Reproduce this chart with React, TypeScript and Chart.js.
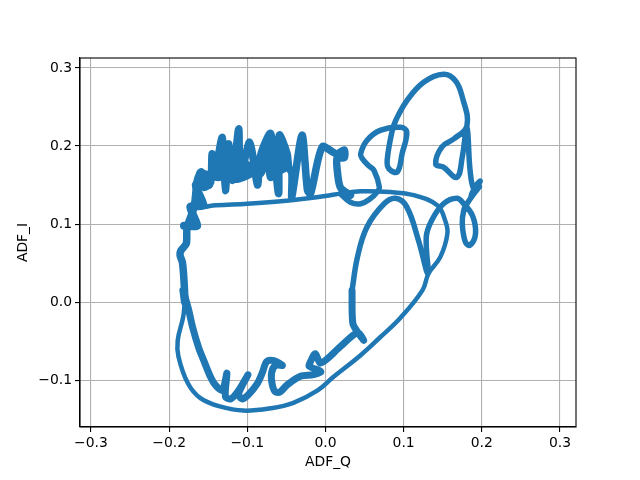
import React, { useEffect, useRef } from "react";
import { Chart, registerables } from "chart.js";

Chart.register(...registerables);

const xTickValues = [-0.3, -0.2, -0.1, 0, 0.1, 0.2, 0.3];
const yTickValues = [-0.1, 0, 0.1, 0.2, 0.3];

const outerQ = [-0.155, -0.14, -0.1, -0.05, 0, 0.019, 0.045, 0.083, 0.113, 0.143, 0.153, 0.156, 0.147, 0.132, 0.124, 0.096, 0.07, 0.045, 0.01, -0.01, -0.041, -0.07, -0.105, -0.134, -0.16, -0.176, -0.188, -0.189, -0.182, -0.18];
const outerI = [0.122, 0.124, 0.126, 0.13, 0.136, 0.139, 0.142, 0.141, 0.137, 0.124, 0.105, 0.088, 0.058, 0.037, 0.015, -0.02, -0.045, -0.068, -0.096, -0.113, -0.129, -0.136, -0.139, -0.134, -0.123, -0.104, -0.07, -0.049, -0.019, 0.0];

const scribbleQ = [-0.182, -0.18, -0.181, -0.183, -0.186, -0.185, -0.178, -0.177, -0.168, -0.164, -0.159, -0.156, -0.147, -0.145, -0.141, -0.132, -0.128, -0.124, -0.119, -0.111, -0.109, -0.097, -0.087, -0.083, -0.07, -0.06, -0.059, -0.049, -0.047, -0.043, -0.043, -0.03, -0.023, -0.019, -0.004, 0.014, 0.024, 0.024, 0.015, 0.015, 0.019, 0.032];
const scribbleI = [0.015, 0.0, 0.028, 0.051, 0.06, 0.066, 0.075, 0.096, 0.122, 0.156, 0.167, 0.147, 0.153, 0.19, 0.169, 0.211, 0.143, 0.203, 0.156, 0.222, 0.16, 0.205, 0.15, 0.188, 0.216, 0.139, 0.214, 0.19, 0.173, 0.165, 0.135, 0.214, 0.143, 0.139, 0.199, 0.19, 0.195, 0.185, 0.185, 0.17, 0.147, 0.137];

const fillQ = [-0.181, -0.164, -0.173, -0.156, -0.166, -0.149, -0.16, -0.136, -0.134, -0.119, -0.105, -0.115, -0.096, -0.109, -0.083, -0.075, -0.07, -0.064, -0.062, -0.051, -0.055];
const fillI = [0.098, 0.098, 0.122, 0.124, 0.15, 0.15, 0.165, 0.16, 0.182, 0.165, 0.19, 0.158, 0.165, 0.182, 0.165, 0.199, 0.16, 0.199, 0.169, 0.173, 0.199];

const loopsQ = [0.019, 0.032, 0.045, 0.058, 0.066, 0.069, 0.062, 0.055, 0.047, 0.045, 0.053, 0.07, 0.096, 0.104, 0.098, 0.092, 0.081, 0.079, 0.085, 0.09, 0.104, 0.126, 0.151, 0.166, 0.175, 0.181, 0.164, 0.149, 0.141, 0.151, 0.168, 0.175, 0.181, 0.185, 0.19, 0.198, 0.193, 0.186, 0.197, 0.19, 0.181, 0.177, 0.175, 0.179, 0.185, 0.192, 0.188, 0.177, 0.168, 0.151, 0.136, 0.129, 0.131, 0.119, 0.104, 0.09, 0.075, 0.053, 0.041, 0.034];
const loopsI = [0.139, 0.128, 0.126, 0.133, 0.141, 0.147, 0.169, 0.175, 0.184, 0.19, 0.207, 0.22, 0.224, 0.218, 0.19, 0.167, 0.171, 0.182, 0.218, 0.233, 0.258, 0.282, 0.292, 0.284, 0.263, 0.226, 0.209, 0.199, 0.177, 0.173, 0.16, 0.186, 0.224, 0.169, 0.145, 0.155, 0.15, 0.135, 0.148, 0.139, 0.126, 0.118, 0.101, 0.077, 0.073, 0.088, 0.111, 0.126, 0.133, 0.126, 0.105, 0.084, 0.037, 0.079, 0.122, 0.133, 0.126, 0.096, 0.058, 0.015];

const bottomQ = [0.034, 0.035, 0.041, 0.049, 0.041, 0.019, -0.006, -0.013, -0.019, -0.021, -0.006, -0.015, -0.032, -0.049, -0.058, -0.064, -0.068, -0.069, -0.064, -0.055, -0.066, -0.075, -0.081, -0.087, -0.099, -0.107, -0.111, -0.099, -0.111, -0.121, -0.128, -0.126, -0.132, -0.141, -0.147, -0.156, -0.162, -0.17, -0.175, -0.182];
const bottomI = [0.015, -0.027, -0.038, -0.049, -0.039, -0.057, -0.078, -0.066, -0.076, -0.082, -0.089, -0.093, -0.095, -0.106, -0.115, -0.115, -0.106, -0.091, -0.081, -0.081, -0.075, -0.076, -0.091, -0.104, -0.119, -0.124, -0.117, -0.093, -0.113, -0.124, -0.121, -0.091, -0.113, -0.106, -0.096, -0.074, -0.059, -0.032, -0.01, 0.015];

const BLUE = "#1f77b4";
const FONT = "'DejaVu Sans'";

const zip = (xs: number[], ys: number[]) => xs.map((x, i) => ({ x, y: ys[i] }));
const ds = (xs: number[], ys: number[], w: number, tension = 0.4) => ({
  data: zip(xs, ys),
  showLine: true,
  borderColor: BLUE,
  backgroundColor: BLUE,
  borderWidth: w,
  pointRadius: 0,
  tension,
  borderCapStyle: "round" as const,
  borderJoinStyle: "round" as const,
});
const fmt = (v: number) => {
  const s = Math.abs(v).toFixed(1);
  return v < -1e-9 ? "\u2212" + s : s;
};

const frame = {
  id: "frame",
  afterDraw(c: any) {
    const { left, right, top, bottom } = c.chartArea;
    const g = c.ctx;
    g.save();
    g.strokeStyle = "#000";
    g.lineWidth = 1.1;
    g.strokeRect(left, top, right - left, bottom - top);
    g.restore();
  },
};

export default function App() {
  const ref = useRef<HTMLCanvasElement>(null);
  useEffect(() => {
    const chart = new Chart(ref.current!, {
      type: "scatter",
      data: {
        datasets: [
          ds(outerQ, outerI, 4.5),
          ds(scribbleQ, scribbleI, 7.5, 0.25),
          ds(fillQ, fillI, 8, 0.2),
          ds(loopsQ, loopsI, 5.5),
          ds(bottomQ, bottomI, 7, 0.3),
        ],
      },
      options: {
        responsive: false,
        animation: false,
        devicePixelRatio: 1,
        layout: { padding: { top: 58, right: 64, left: 0, bottom: 0 } },
        plugins: { legend: { display: false }, tooltip: { enabled: false } },
        scales: {
          x: {
            type: "linear",
            min: -0.314,
            max: 0.3205,
            afterBuildTicks: (s: any) => { s.ticks = xTickValues.map((value) => ({ value })); },
            afterFit: (s: any) => { s.height = 53; },
            grid: { color: "#b0b0b0", lineWidth: 1.1, tickColor: "#000", tickLength: 5 },
            border: { color: "#000", width: 1.1 },
            ticks: { color: "#000", font: { family: FONT, size: 13.9 }, padding: 3, maxRotation: 0, autoSkip: false, callback: (v: any) => fmt(Number(v)) },
            title: { display: true, text: "ADF_Q", color: "#000", font: { family: FONT, size: 13.9 }, padding: { top: 0, bottom: 9 } },
          },
          y: {
            type: "linear",
            min: -0.16,
            max: 0.3128,
            afterBuildTicks: (s: any) => { s.ticks = yTickValues.map((value) => ({ value })); },
            afterFit: (s: any) => { s.width = 80; },
            grid: { color: "#b0b0b0", lineWidth: 1.1, tickColor: "#000", tickLength: 5 },
            border: { color: "#000", width: 1.1 },
            ticks: { color: "#000", font: { family: FONT, size: 13.9 }, padding: 3, autoSkip: false, callback: (v: any) => fmt(Number(v)) },
            title: { display: true, text: "ADF_I", color: "#000", font: { family: FONT, size: 13.9 }, padding: { top: 15, bottom: 0 } },
          },
        },
      },
      plugins: [frame],
    } as any);
    return () => chart.destroy();
  }, []);
  return (
    <div style={{ position: "fixed", left: 0, top: 0, width: 640, height: 480, background: "#fff" }}>
      <canvas ref={ref} width={640} height={480} style={{ display: "block" }} />
    </div>
  );
}
